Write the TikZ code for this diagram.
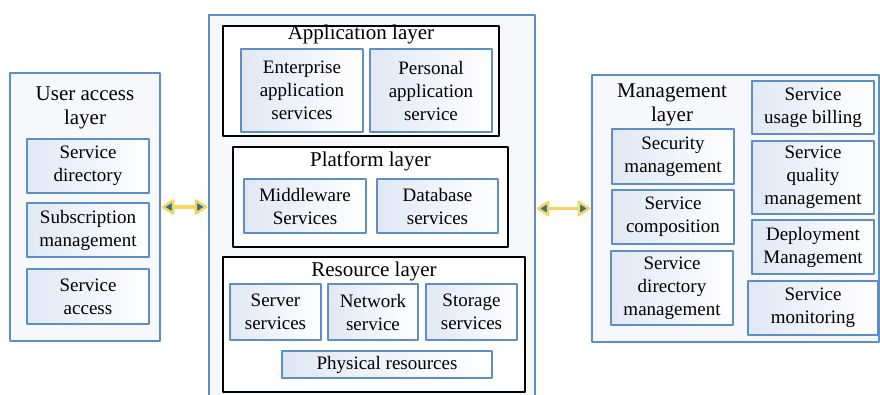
\documentclass[tikz,border=0pt]{standalone}
\usepackage{fontspec}
\setmainfont{Liberation Serif}
\usetikzlibrary{arrows.meta}
\definecolor{boxblue}{RGB}{94,142,198}
\definecolor{outfill}{RGB}{246,248,252}
\definecolor{infill}{RGB}{224,232,244}
\definecolor{arryellow}{RGB}{250,212,96}
\definecolor{arrteal}{RGB}{38,118,150}
\begin{document}
\begin{tikzpicture}[x=1pt,y=-1pt,line join=round,font=\fontsize{19}{23}\selectfont,
	size/.style 2 args={minimum width=#1,minimum height=#2},
	outbox/.style={draw=boxblue,line width=1.3pt,fill=outfill,inner sep=0pt},
	sbox/.style={draw=boxblue,line width=1.3pt,left color=infill,right color=white,align=center,inner sep=0pt},
	laybox/.style={draw=black,line width=1.3pt,fill=white,inner sep=0pt},
	title/.style={align=center,inner sep=0pt,font=\fontsize{21}{24}\selectfont},
	biarrow/.style={arryellow,line width=3.5pt,{Triangle[length=14pt,width=17pt,fill=arrteal,line width=2.5pt,round]}-{Triangle[length=14pt,width=17pt,fill=arrteal,line width=2.5pt,round]},shorten <=1pt,shorten >=1pt}]
	\clip (0,0) rectangle (880,394);
	% user access layer
	\node[outbox,size={150}{268}] (uaccess) at (85,207) {};
	\node[title] (uaccesst) at (85,107.5) {User access\\layer};
	\node[sbox,size={122}{54}] (sdir) at (88,166) {Service\\directory};
	\node[sbox,size={122}{54}] (subm) at (88,230) {Subscription\\management};
	\node[sbox,size={122}{55}] (sacc) at (88,296.5) {Service\\access};
	% core layers
	\node[outbox,size={326}{385}] (core) at (372,207.5) {};
	\node[laybox,size={276}{110}] (app) at (361,81) {};
	\node[title] (appt) at (361,34) {Application layer};
	\node[sbox,size={122}{83}] (ent) at (302,90.5) {Enterprise\\application\\services};
	\node[sbox,size={122}{83}] (pers) at (431,90.5) {Personal\\application\\service};
	\node[laybox,size={275}{100}] (plat) at (370.5,197) {};
	\node[title] (platt) at (370.5,161) {Platform layer};
	\node[sbox,size={122}{54}] (midw) at (305,206) {Middleware\\Services};
	\node[sbox,size={121}{54}] (dbase) at (437.5,206) {Database\\services};
	\node[laybox,size={302}{135}] (res) at (374,324.5) {};
	\node[title] (rest) at (374,271) {Resource layer};
	\node[sbox,size={91}{56}] (server) at (275.5,312) {Server\\services};
	\node[sbox,size={90}{56}] (netw) at (373,312) {Network\\service};
	\node[sbox,size={91}{56}] (stor) at (471.5,312) {Storage\\services};
	\node[sbox,size={210}{27}] (phys) at (387,364.5) {Physical resources};
	% management layer
	\node[outbox,size={287}{267}] (mgmt) at (735.5,208.5) {};
	\node[title] (mgmtt) at (672,105) {Management\\layer};
	\node[sbox,size={122}{55}] (secm) at (673,156.5) {Security\\management};
	\node[sbox,size={122}{54}] (comp) at (673,217) {Service\\composition};
	\node[sbox,size={122}{74}] (dirm) at (672,288) {Service\\directory\\management};
	\node[sbox,size={122}{53}] (bill) at (813,107.5) {Service\\usage billing};
	\node[sbox,size={122}{73}] (qual) at (813,177.5) {Service\\quality\\management};
	\node[sbox,size={122}{54}] (depl) at (813,247) {Deployment\\Management};
	\node[sbox,size={130}{54}] (moni) at (813,308) {Service\\monitoring};
	% links
	\draw[biarrow] (uaccess.east) -- (uaccess.east -| core.west);
	\draw[biarrow] (core.east |- mgmt.west) -- (mgmt.west);
\end{tikzpicture}
\end{document}
